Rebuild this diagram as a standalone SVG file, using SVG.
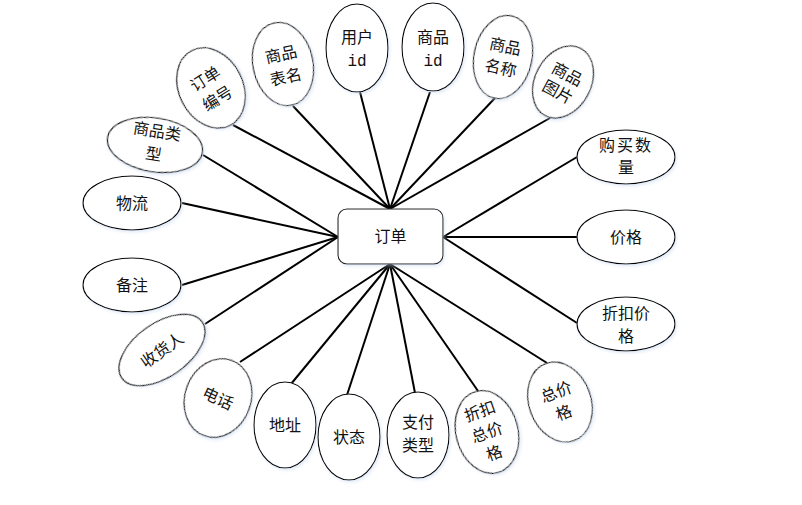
<svg xmlns="http://www.w3.org/2000/svg" width="802" height="505" viewBox="0 0 802 505">
<defs>
<filter id="sh" x="-20%" y="-20%" width="140%" height="140%">
<feDropShadow dx="1.5" dy="2" stdDeviation="1.5" flood-color="#c4d6f0" flood-opacity="0.45"/>
</filter>
</defs>
<style>
.e{fill:#fff;stroke:#000;stroke-width:1.1;filter:url(#sh)}
.r{fill:#fff;stroke:#222;stroke-width:1.1;filter:url(#sh)}
.t{font-family:"Liberation Serif","Noto Sans CJK SC",serif;font-size:16px;fill:#111;text-anchor:middle}
.m{font-family:"Liberation Mono",monospace;font-size:16px;fill:#111;text-anchor:middle}
.c line{stroke:#000;stroke-width:2}
</style>
<rect width="802" height="505" fill="#fff"/>
<g class="c" id="connectors">
<line x1="233" y1="125" x2="390" y2="209"/>
<line x1="293" y1="106" x2="390" y2="209"/>
<line x1="360" y1="92" x2="390" y2="209"/>
<line x1="430" y1="92" x2="390" y2="209"/>
<line x1="495" y1="98" x2="390" y2="209"/>
<line x1="550" y1="118" x2="390" y2="209"/>
<line x1="577" y1="157" x2="443" y2="237"/>
<line x1="577" y1="237" x2="443" y2="237"/>
<line x1="577" y1="323" x2="443" y2="237"/>
<line x1="203" y1="155" x2="338" y2="237"/>
<line x1="182" y1="203" x2="338" y2="237"/>
<line x1="182" y1="285" x2="338" y2="237"/>
<line x1="205" y1="324" x2="338" y2="237"/>
<line x1="240" y1="362" x2="390" y2="264"/>
<line x1="291" y1="384" x2="390" y2="264"/>
<line x1="347" y1="395" x2="390" y2="264"/>
<line x1="415" y1="393" x2="390" y2="264"/>
<line x1="478" y1="391" x2="390" y2="264"/>
<line x1="547" y1="363" x2="390" y2="264"/>
</g>
<g id="order">
<rect class="r" x="338" y="209" width="105" height="55" rx="9"/>
<text class="t" x="390.5" y="242">订单</text>
</g>
<g id="n-order-no" transform="translate(211,88) rotate(-27)">
<ellipse class="e" rx="32" ry="42"/>
<text class="t" y="-5" transform="rotate(-5)">订单</text>
<text class="t" y="18" transform="rotate(-5)">编号</text>
</g>
<g id="n-table-name" transform="translate(283,64) rotate(-12)">
<ellipse class="e" rx="30" ry="42"/>
<text class="t" y="-4">商品</text>
<text class="t" y="19">表名</text>
</g>
<g id="n-user-id" transform="translate(357,48)">
<ellipse class="e" rx="31" ry="44"/>
<text class="t" y="-5">用户</text>
<text class="m" y="18">id</text>
</g>
<g id="n-goods-id" transform="translate(433,47)">
<ellipse class="e" rx="31" ry="44"/>
<text class="t" y="-4">商品</text>
<text class="m" y="19">id</text>
</g>
<g id="n-goods-name" transform="translate(503,57) rotate(12)">
<ellipse class="e" rx="29" ry="42"/>
<text class="t" y="-5">商品</text>
<text class="t" y="17">名称</text>
</g>
<g id="n-goods-pic" transform="translate(563,82) rotate(28)">
<ellipse class="e" rx="28" ry="38"/>
<text class="t" y="-3">商品</text>
<text class="t" y="17">图片</text>
</g>
<g id="n-buy-qty" transform="translate(626,157)">
<ellipse class="e" rx="49" ry="27"/>
<text class="t" y="-6" letter-spacing="2">购买数</text>
<text class="t" y="16">量</text>
</g>
<g id="n-price" transform="translate(626,237)">
<ellipse class="e" rx="49" ry="27"/>
<text class="t" y="6">价格</text>
</g>
<g id="n-discount-price" transform="translate(626,324)">
<ellipse class="e" rx="49" ry="27"/>
<text class="t" y="-5">折扣价</text>
<text class="t" y="18">格</text>
</g>
<g id="n-goods-type" transform="translate(155,145) rotate(9)">
<ellipse class="e" rx="48" ry="27"/>
<text class="t" y="-8">商品类</text>
<text class="t" y="15">型</text>
</g>
<g id="n-logistics" transform="translate(132,203)">
<ellipse class="e" rx="49" ry="27"/>
<text class="t" y="6">物流</text>
</g>
<g id="n-remark" transform="translate(132,285)">
<ellipse class="e" rx="49" ry="27"/>
<text class="t" y="6">备注</text>
</g>
<g id="n-receiver" transform="translate(162,350) rotate(-35)">
<ellipse class="e" rx="49" ry="27"/>
<text class="t" y="6">收货人</text>
</g>
<g id="n-phone" transform="translate(218,398) rotate(20)">
<ellipse class="e" rx="33" ry="40"/>
<text class="t" y="6" transform="rotate(5)">电话</text>
</g>
<g id="n-address" transform="translate(285,425)">
<ellipse class="e" rx="31" ry="43"/>
<text class="t" y="6">地址</text>
</g>
<g id="n-status" transform="translate(349,437)">
<ellipse class="e" rx="31" ry="43"/>
<text class="t" y="6">状态</text>
</g>
<g id="n-pay-type" transform="translate(418,435)">
<ellipse class="e" rx="31" ry="43"/>
<text class="t" y="-7">支付</text>
<text class="t" y="16">类型</text>
</g>
<g id="n-discount-total" transform="translate(487,432) rotate(-15)">
<ellipse class="e" rx="31" ry="42"/>
<text class="t" y="-16" transform="rotate(-4)">折扣</text>
<text class="t" y="6" transform="rotate(-4)">总价</text>
<text class="t" y="28" transform="rotate(-4)">格</text>
</g>
<g id="n-total" transform="translate(560,402) rotate(-20)">
<ellipse class="e" rx="31" ry="41"/>
<text class="t" y="-5">总价</text>
<text class="t" y="17">格</text>
</g>
</svg>
